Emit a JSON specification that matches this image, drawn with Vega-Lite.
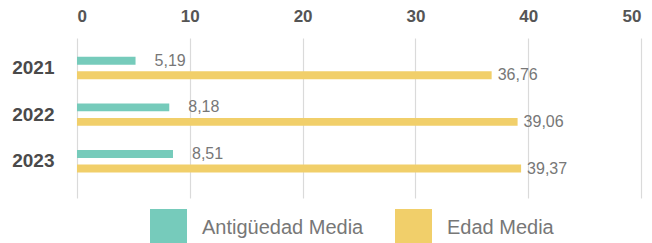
{
  "$schema": "https://vega.github.io/schema/vega-lite/v6.json",
  "width": 564,
  "height": 160,
  "autosize": {"type": "none"},
  "padding": {"left": 77, "top": 38, "right": 11, "bottom": 45},
  "config": {
    "view": {"stroke": null},
    "locale": {"number": {"decimal": ",", "thousands": ".", "grouping": [3], "currency": ["", " €"]}}
  },
  "data": {
    "values": [
      {"year": "2021", "serie": "Antigüedad Media", "value": 5.19},
      {"year": "2021", "serie": "Edad Media", "value": 36.76},
      {"year": "2022", "serie": "Antigüedad Media", "value": 8.18},
      {"year": "2022", "serie": "Edad Media", "value": 39.06},
      {"year": "2023", "serie": "Antigüedad Media", "value": 8.51},
      {"year": "2023", "serie": "Edad Media", "value": 39.37}
    ]
  },
  "encoding": {
    "y": {
      "field": "year", "type": "nominal", "title": null,
      "scale": {"paddingInner": 0, "paddingOuter": 0.213, "align": 0.33},
      "axis": {"domain": false, "ticks": false, "grid": false, "labelPadding": 23, "labelFont": "Liberation Sans", "labelFontSize": 19, "labelFontWeight": "bold", "labelColor": "#4a4a4a"}
    },
    "yOffset": {
      "field": "serie", "type": "nominal", "sort": ["Antigüedad Media", "Edad Media"],
      "scale": {"paddingInner": 0.45, "paddingOuter": 0.835}
    },
    "x": {
      "field": "value", "type": "quantitative", "title": null,
      "scale": {"domain": [0, 50], "nice": false},
      "axis": {"orient": "top", "values": [0, 10, 20, 30, 40, 50], "domain": false, "ticks": false, "tickSize": 0, "labelPadding": 13, "labelFont": "Liberation Sans", "labelFontSize": 17, "labelFontWeight": "bold", "labelColor": "#555555", "grid": true, "gridColor": "#dadada", "gridWidth": 1.2}
    }
  },
  "layer": [
    {
      "mark": {"type": "bar"},
      "encoding": {
        "color": {
          "field": "serie", "type": "nominal", "sort": ["Antigüedad Media", "Edad Media"],
          "scale": {"domain": ["Antigüedad Media", "Edad Media"], "range": ["#76CBBB", "#F1CF6A"]},
          "legend": {"orient": "none", "legendX": 73, "legendY": 171, "direction": "horizontal", "title": null, "symbolType": "square", "symbolSize": 1369, "symbolStrokeWidth": 0, "symbolOpacity": 1, "labelFont": "Liberation Sans", "labelFontSize": 20, "labelLimit": 400, "labelColor": "#777777", "labelOffset": 15, "columnPadding": 31, "padding": 0}
        }
      }
    },
    {
      "transform": [{"filter": "datum.serie === 'Antigüedad Media'"}],
      "mark": {"type": "text", "align": "left", "baseline": "middle", "dx": 19, "font": "Liberation Sans", "fontSize": 16, "color": "#777777"},
      "encoding": {"text": {"field": "value", "type": "quantitative", "format": ".2f"}}
    },
    {
      "transform": [{"filter": "datum.serie === 'Edad Media'"}],
      "mark": {"type": "text", "align": "left", "baseline": "middle", "dx": 6, "font": "Liberation Sans", "fontSize": 16, "color": "#777777"},
      "encoding": {"text": {"field": "value", "type": "quantitative", "format": ".2f"}}
    }
  ]
}
